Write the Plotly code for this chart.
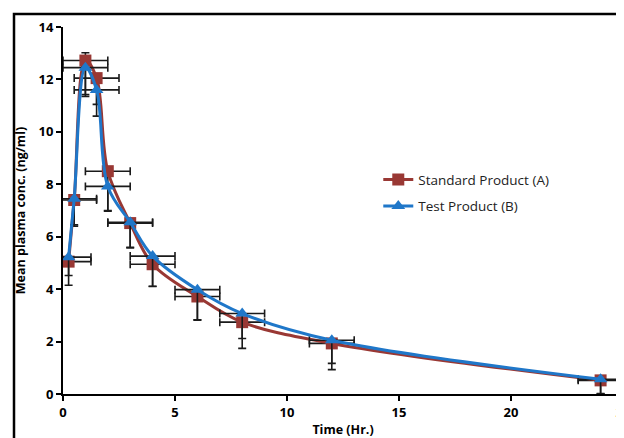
import plotly.graph_objects as go

time_hr = [0.25, 0.5, 1, 1.5, 2, 3, 4, 6, 8, 12, 24]

std_a = [5.05, 7.4, 12.72, 12.05, 8.5, 6.52, 4.95, 3.72, 2.74, 1.93, 0.52]
std_a_err_minus = [0.9, 1.0, 1.3, 1.0, 1.5, 0.95, 0.85, 0.9, 1.0, 1.0, 0.5]
std_a_err_plus = [0, 0, 0.3, 0, 0, 0, 0, 0, 0, 0, 0]

test_b = [5.22, 7.45, 12.45, 11.6, 7.92, 6.55, 5.26, 3.98, 3.07, 2.05, 0.56]
test_b_err_minus = [0.7, 1.0, 1.1, 1.0, 0.95, 0.95, 1.15, 1.15, 0.95, 0.88, 0.55]
test_b_err_plus = [0] * 11

x_err = [1] * 11

x_ticks = [0, 5, 10, 15, 20, 25]
y_ticks = [0, 2, 4, 6, 8, 10, 12, 14]

font_family = "Open Sans, Liberation Sans, Arial, sans-serif"
red = "#993834"
blue = "#1F77C9"

fig = go.Figure()

def add_series(name, y, ep, em, color, symbol, group):
    fig.add_trace(go.Scatter(
        x=time_hr, y=y, name=name, mode="lines+markers", legendgroup=group,
        line=dict(color=color, width=3, shape="spline", smoothing=1.0),
        marker=dict(symbol=symbol, size=12, color=color),
        error_y=dict(type="data", symmetric=False, array=ep, arrayminus=em,
                     color="#1a1a1a", thickness=1.6, width=4),
        error_x=dict(type="data", array=x_err, color="#1a1a1a", thickness=1.6, width=4),
    ))

add_series("Standard Product (A)", std_a, std_a_err_plus, std_a_err_minus, red, "square", "a")
add_series("Test Product (B)", test_b, test_b_err_plus, test_b_err_minus, blue, "triangle-up", "b")

# page body has an 8px margin, so the figure is sized to end at the window edge
fig.update_layout(
    width=616, height=430,
    margin=dict(l=55, r=1, t=19, b=44, autoexpand=False),
    paper_bgcolor="white", plot_bgcolor="white",
    font=dict(family=font_family, size=12, color="black"),
    showlegend=True,
    legend=dict(x=0.563, y=0.626, xanchor="left", yanchor="top",
                bgcolor="rgba(0,0,0,0)", font=dict(size=13.5, color="#222"),
                traceorder="grouped", tracegroupgap=6, itemwidth=30),
    shapes=[dict(type="rect", xref="paper", yref="paper",
                 x0=-0.0875, x1=1.3, y0=-0.3, y1=1.0354,
                 line=dict(color="black", width=2.5), layer="above")],
)

fig.update_xaxes(range=[0, 25], tickvals=x_ticks, ticktext=[str(v) for v in x_ticks],
                 showline=True, linecolor="black", linewidth=2, automargin=False,
                 ticks="outside", ticklen=5, tickwidth=2, tickcolor="black",
                 showgrid=False, zeroline=False, ticklabeloverflow="allow",
                 tickfont=dict(size=13, family=font_family, weight="bold"),
                 title=dict(text="<b>Time (Hr.)</b>", font=dict(size=12.5), standoff=7))
fig.update_yaxes(range=[0, 14], tickvals=y_ticks, ticktext=[str(v) for v in y_ticks],
                 showline=True, linecolor="black", linewidth=2, automargin=False,
                 ticks="outside", ticklen=5, tickwidth=2, tickcolor="black",
                 showgrid=False, zeroline=False, ticklabeloverflow="allow",
                 tickfont=dict(size=13, family=font_family, weight="bold"),
                 title=dict(text="<b>Mean plasma conc. (ng/ml)</b>", font=dict(size=12.5), standoff=10))

fig.write_html("out.html")
